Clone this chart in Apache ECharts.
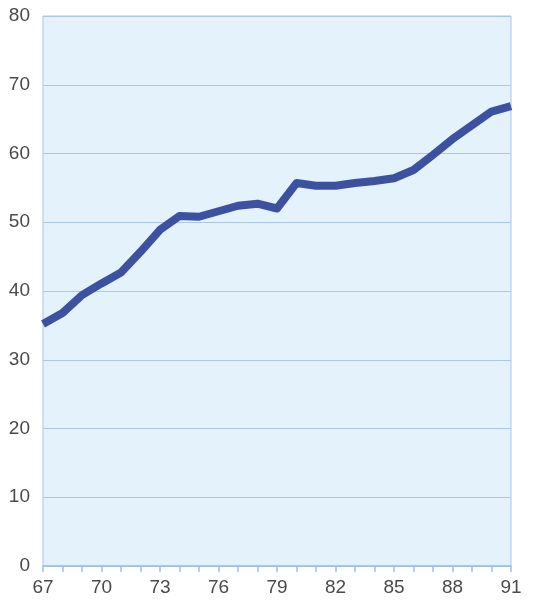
<!DOCTYPE html>
<html><head><meta charset="utf-8">
<script src="https://cdn.jsdelivr.net/npm/echarts@6/dist/echarts.min.js"></script>
<style>html,body{margin:0;padding:0;background:#fff}#c{width:543px;height:601px}</style>
</head><body><div id="c"></div>
<script>
const years = [67,68,69,70,71,72,73,74,75,76,77,78,79,80,81,82,83,84,85,86,87,88,89,90,91];
const values = [35.2,36.8,39.4,41.1,42.7,45.7,48.9,50.9,50.8,51.6,52.4,52.7,52.0,55.7,55.3,55.3,55.7,56.0,56.4,57.6,59.8,62.1,64.1,66.1,66.9];
const yTicks = [0,10,20,30,40,50,60,70,80];
const chart = echarts.init(document.getElementById('c'));
chart.setOption({
  animation:false,
  grid:{left:43,right:32,top:16,bottom:35,show:true,backgroundColor:'#e4f2fc',borderColor:'#aac6ec',borderWidth:1},
  xAxis:{type:'value',min:67,max:91,interval:1,
    axisLine:{show:true,lineStyle:{color:'#9fbde6',width:1.5}},
    axisTick:{show:true,length:6,inside:false,lineStyle:{color:'#9fbde6',width:1.5}},
    axisLabel:{fontFamily:'Liberation Sans, Arial',fontSize:19,color:'#4a4a4a',margin:12,
      formatter:function(v){return (v-67)%3===0?String(v):'';}},
    splitLine:{show:false}},
  yAxis:{type:'value',min:0,max:80,interval:10,
    axisLine:{show:false},axisTick:{show:false},
    axisLabel:{fontFamily:'Liberation Sans, Arial',fontSize:19,color:'#4a4a4a',margin:13},
    splitLine:{show:true,lineStyle:{color:'#aac6ec',width:1}}},
  series:[{type:'line',data:years.map((y,i)=>[y,values[i]]),showSymbol:false,
    lineStyle:{color:'#3d51a1',width:8,join:'round'},smooth:false}]
});
</script></body></html>
